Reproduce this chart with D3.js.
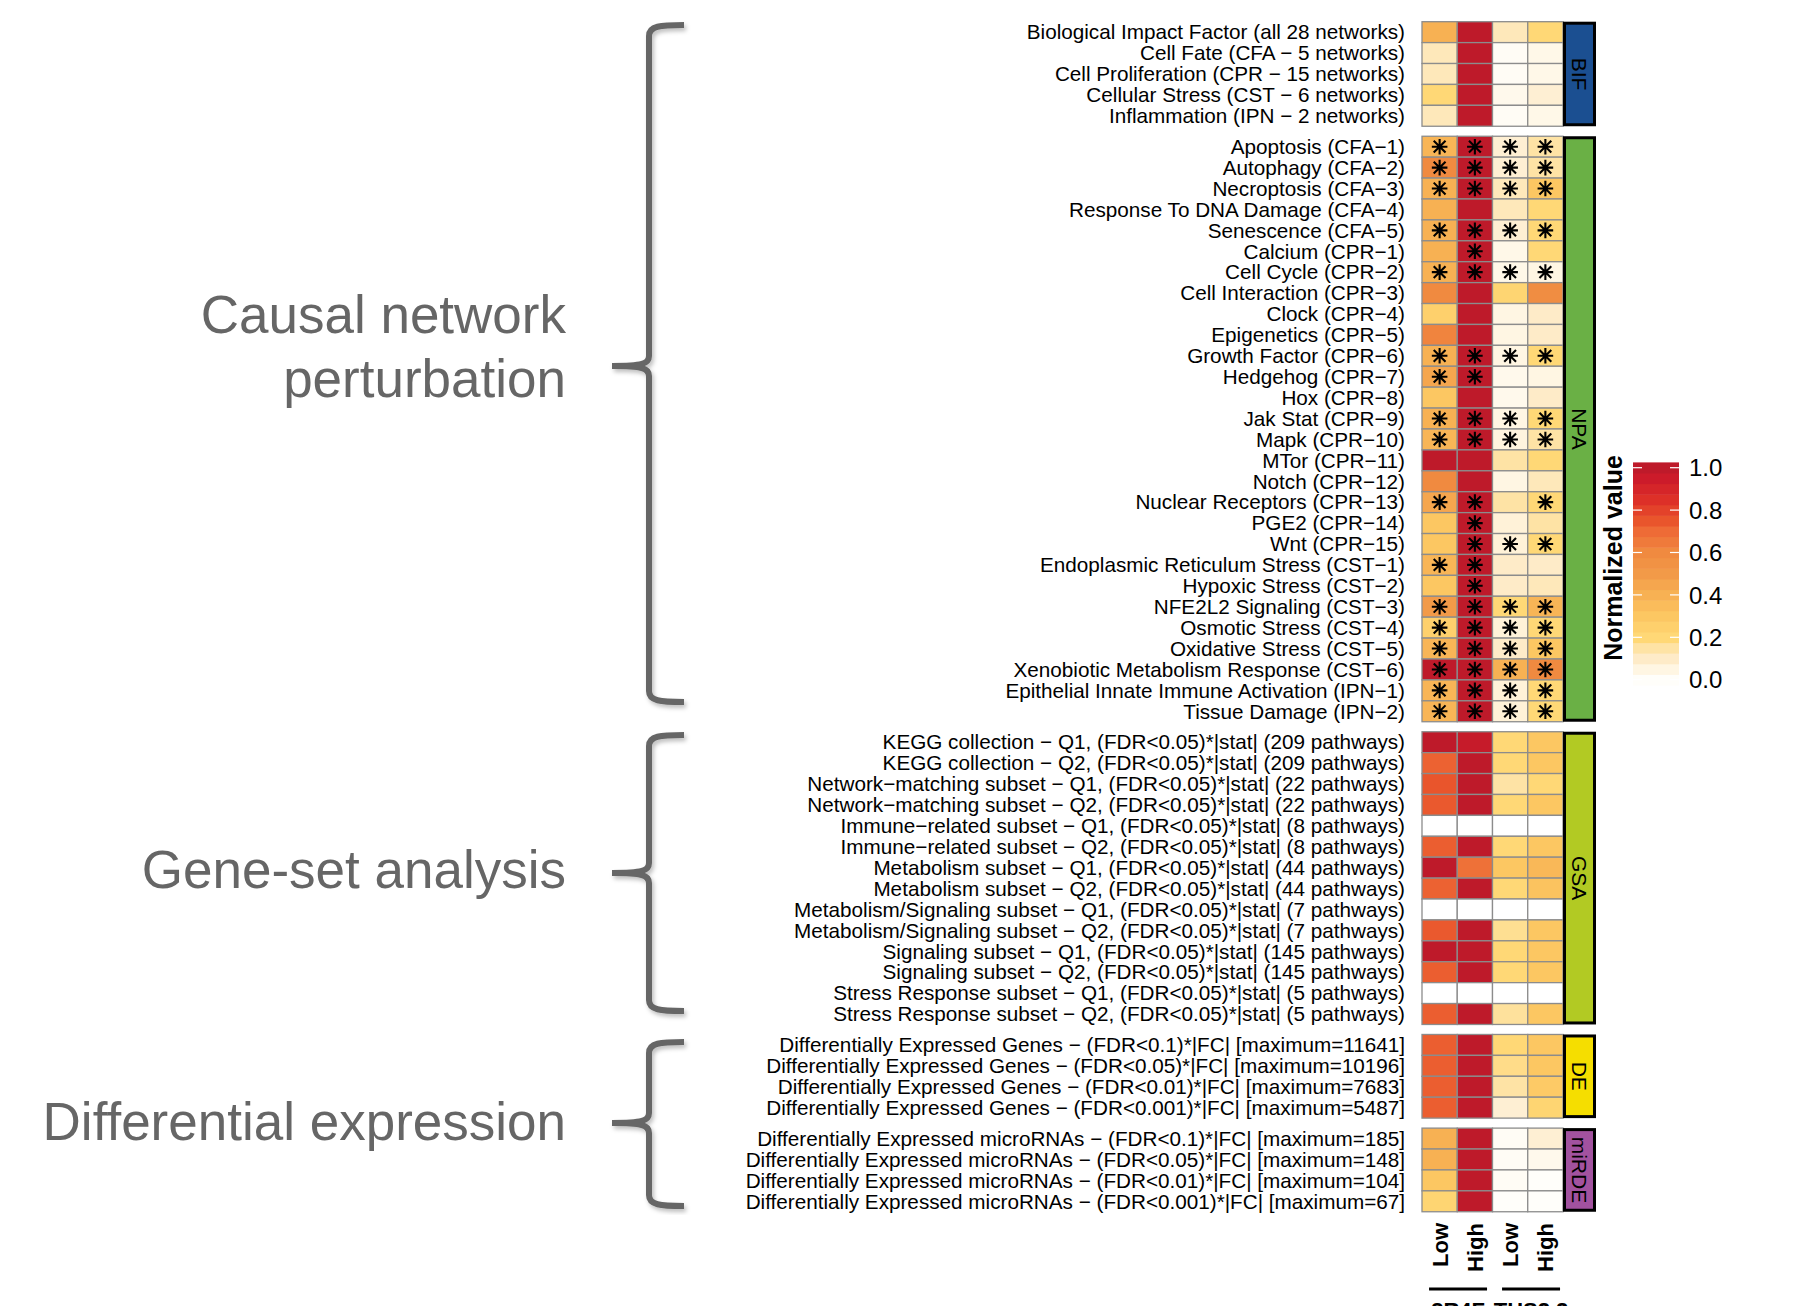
<!DOCTYPE html>
<html>
<head>
<meta charset="utf-8">
<script src="https://cdn.jsdelivr.net/npm/d3@7"></script>
<style>
  html, body { margin: 0; padding: 0; background: #fff; }
  svg { display: block; font-family: "Liberation Sans", Arial, Helvetica, sans-serif; }
</style>
</head>
<body>
<svg id="chart" width="1809" height="1306"></svg>
<script>
// ---- data -------------------------------------------------------------
const colKeys   = ['3R4F_Low', '3R4F_High', 'THS_Low', 'THS_High'];
const colLabels = ['Low', 'High', 'Low', 'High'];
const products  = ['3R4F', 'THS2.2'];

const groupNames  = ['BIF', 'NPA', 'GSA', 'DE', 'miRDE'];
const groupColors = ['#1b4f91', '#6ab045', '#b2ca23', '#f5de00', '#a2529f'];

const bifLabels = [
  'Biological Impact Factor (all 28 networks)',
  'Cell Fate (CFA − 5 networks)',
  'Cell Proliferation (CPR − 15 networks)',
  'Cellular Stress (CST − 6 networks)',
  'Inflammation (IPN − 2 networks)'
];
const bifValues = [
  [0.40, 1, 0.12, 0.20],
  [0.12, 1, 0.01, 0.04],
  [0.12, 1, 0.01, 0.04],
  [0.20, 1, 0.03, 0.08],
  [0.12, 1, 0.01, 0.04]
];

const npaLabels = [
  'Apoptosis (CFA−1)', 'Autophagy (CFA−2)', 'Necroptosis (CFA−3)',
  'Response To DNA Damage (CFA−4)', 'Senescence (CFA−5)',
  'Calcium (CPR−1)', 'Cell Cycle (CPR−2)', 'Cell Interaction (CPR−3)',
  'Clock (CPR−4)', 'Epigenetics (CPR−5)', 'Growth Factor (CPR−6)',
  'Hedgehog (CPR−7)', 'Hox (CPR−8)', 'Jak Stat (CPR−9)', 'Mapk (CPR−10)',
  'MTor (CPR−11)', 'Notch (CPR−12)', 'Nuclear Receptors (CPR−13)',
  'PGE2 (CPR−14)', 'Wnt (CPR−15)',
  'Endoplasmic Reticulum Stress (CST−1)', 'Hypoxic Stress (CST−2)',
  'NFE2L2 Signaling (CST−3)', 'Osmotic Stress (CST−4)',
  'Oxidative Stress (CST−5)', 'Xenobiotic Metabolism Response (CST−6)',
  'Epithelial Innate Immune Activation (IPN−1)', 'Tissue Damage (IPN−2)'
];
const npaValues = [
  [0.38, 1, 0.08, 0.15], [0.60, 1, 0.08, 0.15], [0.40, 1, 0.12, 0.30],
  [0.40, 1, 0.12, 0.20], [0.40, 1, 0.08, 0.20],
  [0.40, 1, 0.04, 0.20], [0.40, 1, 0.04, 0.05], [0.60, 1, 0.22, 0.58],
  [0.25, 1, 0.05, 0.10], [0.62, 1, 0.05, 0.10], [0.40, 1, 0.05, 0.20],
  [0.45, 1, 0.03, 0.05], [0.30, 1, 0.03, 0.10], [0.40, 1, 0.05, 0.20],
  [0.38, 1, 0.06, 0.15], [1.00, 1, 0.15, 0.20], [0.60, 1, 0.05, 0.12],
  [0.45, 1, 0.15, 0.20], [0.30, 1, 0.07, 0.15], [0.30, 1, 0.07, 0.20],
  [0.38, 1, 0.10, 0.10], [0.30, 1, 0.10, 0.12], [0.50, 1, 0.20, 0.38],
  [0.25, 1, 0.07, 0.20], [0.38, 1, 0.10, 0.30], [1.00, 1, 0.40, 0.60],
  [0.38, 1, 0.07, 0.20], [0.38, 1, 0.07, 0.20]
];
const npaStars = [
  [1,1,1,1], [1,1,1,1], [1,1,1,1], [0,0,0,0], [1,1,1,1],
  [0,1,0,0], [1,1,1,1], [0,0,0,0], [0,0,0,0], [0,0,0,0],
  [1,1,1,1], [1,1,0,0], [0,0,0,0], [1,1,1,1], [1,1,1,1],
  [0,0,0,0], [0,0,0,0], [1,1,0,1], [0,1,0,0], [0,1,1,1],
  [1,1,0,0], [0,1,0,0], [1,1,1,1], [1,1,1,1], [1,1,1,1],
  [1,1,1,1], [1,1,1,1], [1,1,1,1]
];

const gsaLabels = [
  'KEGG collection − Q1, (FDR<0.05)*|stat| (209 pathways)',
  'KEGG collection − Q2, (FDR<0.05)*|stat| (209 pathways)',
  'Network−matching subset − Q1, (FDR<0.05)*|stat| (22 pathways)',
  'Network−matching subset − Q2, (FDR<0.05)*|stat| (22 pathways)',
  'Immune−related subset − Q1, (FDR<0.05)*|stat| (8 pathways)',
  'Immune−related subset − Q2, (FDR<0.05)*|stat| (8 pathways)',
  'Metabolism subset − Q1, (FDR<0.05)*|stat| (44 pathways)',
  'Metabolism subset − Q2, (FDR<0.05)*|stat| (44 pathways)',
  'Metabolism/Signaling subset − Q1, (FDR<0.05)*|stat| (7 pathways)',
  'Metabolism/Signaling subset − Q2, (FDR<0.05)*|stat| (7 pathways)',
  'Signaling subset − Q1, (FDR<0.05)*|stat| (145 pathways)',
  'Signaling subset − Q2, (FDR<0.05)*|stat| (145 pathways)',
  'Stress Response subset − Q1, (FDR<0.05)*|stat| (5 pathways)',
  'Stress Response subset − Q2, (FDR<0.05)*|stat| (5 pathways)'
];
const gsaValues = [
  [1.00, 0.97, 0.20, 0.30], [0.72, 1, 0.20, 0.30],
  [0.75, 1, 0.15, 0.20],    [0.74, 1, 0.20, 0.30],
  [null, null, null, null], [0.73, 1, 0.20, 0.30],
  [1.00, 0.68, 0.30, 0.37], [0.72, 1, 0.20, 0.32],
  [null, null, null, null], [0.74, 1, 0.17, 0.30],
  [1.00, 1, 0.20, 0.30],    [0.73, 1, 0.20, 0.30],
  [null, null, null, null], [0.73, 1, 0.16, 0.30]
];

const deLabels = [
  'Differentially Expressed Genes − (FDR<0.1)*|FC| [maximum=11641]',
  'Differentially Expressed Genes − (FDR<0.05)*|FC| [maximum=10196]',
  'Differentially Expressed Genes − (FDR<0.01)*|FC| [maximum=7683]',
  'Differentially Expressed Genes − (FDR<0.001)*|FC| [maximum=5487]'
];
const deValues = [
  [0.73, 1, 0.20, 0.30], [0.73, 1, 0.18, 0.30],
  [0.73, 1, 0.15, 0.28], [0.73, 1, 0.08, 0.22]
];

const mirdeLabels = [
  'Differentially Expressed microRNAs − (FDR<0.1)*|FC| [maximum=185]',
  'Differentially Expressed microRNAs − (FDR<0.05)*|FC| [maximum=148]',
  'Differentially Expressed microRNAs − (FDR<0.01)*|FC| [maximum=104]',
  'Differentially Expressed microRNAs − (FDR<0.001)*|FC| [maximum=67]'
];
const mirdeValues = [
  [0.40, 1, 0.01, 0.08], [0.40, 1, 0.01, 0.03],
  [0.30, 1, 0.01, 0.00], [0.22, 1, 0.00, 0.00]
];

const sectionLabels = [['Causal network', 'perturbation'], ['Gene-set analysis'], ['Differential expression']];
const legendTicks = [0, 0.2, 0.4, 0.6, 0.8, 1.0];

// colour ramp (white -> yellow -> orange -> red)
const colorStops = [0, 0.05, 0.1, 0.15, 0.2, 0.3, 0.4, 0.5, 0.6, 0.7, 0.75, 0.85, 0.95, 1];
const colorHex   = ['#fffefa', '#fff6e3', '#feebc8', '#fee3a5', '#ffd876', '#fcc762', '#f7b153',
                    '#f29a48', '#f08a40', '#ee6b36', '#e9552c', '#dd3028', '#cc1b2a', '#be1a2a'];

// ---- layout -----------------------------------------------------------
const groups = [
  { labels: bifLabels,   values: bifValues },
  { labels: npaLabels,   values: npaValues, stars: npaStars },
  { labels: gsaLabels,   values: gsaValues },
  { labels: deLabels,    values: deValues },
  { labels: mirdeLabels, values: mirdeValues }
].map((g, i) => ({ ...g, name: groupNames[i], color: groupColors[i] }));

const ROW_H = 20.91, GAP = 10, TOP = 21.7;
const HM_X0 = 1422, HM_X1 = 1563;
const LABEL_X = 1405;
const GREY = '#666666';

const svg = d3.select('#chart');
const color = d3.scaleLinear().domain(colorStops).range(colorHex).clamp(true);
const x = d3.scaleBand().domain(colKeys).range([HM_X0, HM_X1]);

let cursorY = TOP;
groups.forEach(g => {
  g.y = d3.scaleBand().domain(g.labels).range([cursorY, cursorY + g.labels.length * ROW_H]);
  cursorY += g.labels.length * ROW_H + GAP;
});

const defs = svg.append('defs');
const shadow = defs.append('filter').attr('id', 'shadow')
  .attr('x', '-50%').attr('y', '-5%').attr('width', '200%').attr('height', '110%');
shadow.append('feDropShadow')
  .attr('dx', 2).attr('dy', 3).attr('stdDeviation', 2)
  .attr('flood-color', '#000').attr('flood-opacity', 0.25);

// ---- heatmap ----------------------------------------------------------
const hm = svg.append('g').attr('class', 'heatmap');
const starPath = (r, d) => `M0,${-r}L0,${r}M${-r},0L${r},0M${-d},${-d}L${d},${d}M${-d},${d}L${d},${-d}`;

groups.forEach(g => {
  const gg = hm.append('g').attr('class', 'group-' + g.name);
  const cells = g.labels.flatMap((lab, i) => colKeys.map((k, j) => ({
    lab, key: k, v: g.values[i][j], star: g.stars ? g.stars[i][j] : 0
  })));

  gg.selectAll('rect.cell')
    .data(cells)
    .join('rect')
    .attr('class', 'cell')
    .attr('x', d => x(d.key))
    .attr('y', d => g.y(d.lab))
    .attr('width', x.bandwidth())
    .attr('height', g.y.bandwidth())
    .attr('fill', d => d.v == null ? '#ffffff' : color(d.v))
    .attr('stroke', '#8c8c8c')
    .attr('stroke-width', 1.3);

  gg.selectAll('path.star')
    .data(cells.filter(d => d.star))
    .join('path')
    .attr('class', 'star')
    .attr('transform', d => `translate(${x(d.key) + x.bandwidth() / 2},${g.y(d.lab) + g.y.bandwidth() / 2})`)
    .attr('d', starPath(7.8, 5.9))
    .attr('stroke', '#000')
    .attr('stroke-width', 2.1)
    .attr('fill', 'none');

  // row labels
  gg.selectAll('text.row')
    .data(g.labels)
    .join('text')
    .attr('class', 'row')
    .attr('x', LABEL_X)
    .attr('y', d => g.y(d) + g.y.bandwidth() / 2)
    .attr('dy', '0.35em')
    .attr('text-anchor', 'end')
    .attr('font-size', 20.7)
    .attr('fill', '#000')
    .text(d => d);

  // annotation bar
  const [y0, y1] = g.y.range();
  gg.append('rect')
    .attr('x', HM_X1 + 1.5).attr('y', y0 + 1.5)
    .attr('width', 30).attr('height', y1 - y0 - 3)
    .attr('fill', g.color)
    .attr('stroke', '#000')
    .attr('stroke-width', 3);
  gg.append('text')
    .attr('transform', `translate(${HM_X1 + 16.5},${(y0 + y1) / 2}) rotate(90)`)
    .attr('text-anchor', 'middle')
    .attr('dy', '0.35em')
    .attr('font-size', 21)
    .attr('fill', '#000')
    .text(g.name);
});

// ---- column labels ----------------------------------------------------
const colG = svg.append('g').attr('class', 'col-labels');
colG.selectAll('text')
  .data(colKeys)
  .join('text')
  .attr('transform', d => `translate(${x(d) + x.bandwidth() / 2 + 8},1223) rotate(-90)`)
  .attr('text-anchor', 'end')
  .attr('font-size', 22)
  .attr('font-weight', 'bold')
  .text((d, i) => colLabels[i]);

products.forEach((p, i) => {
  const a = x(colKeys[i * 2]), b = x(colKeys[i * 2 + 1]) + x.bandwidth();
  const cx = (a + b) / 2 + (i === 0 ? 0.8 : 3.3);
  colG.append('line')
    .attr('x1', cx - 29).attr('x2', cx + 29)
    .attr('y1', 1289).attr('y2', 1289)
    .attr('stroke', '#000').attr('stroke-width', 3);
  colG.append('text')
    .attr('x', cx).attr('y', 1318)
    .attr('text-anchor', 'middle')
    .attr('font-size', 22)
    .attr('font-weight', 'bold')
    .text(p);
});

// ---- legend -----------------------------------------------------------
const LEG_X = 1633, LEG_W = 46;
const yLeg = d3.scaleLinear().domain([0, 1]).range([679.7, 467.7]);
const bins = d3.range(0, 21).map(i => i / 20);
const binH = yLeg(0) - yLeg(0.05);
const leg = svg.append('g').attr('class', 'legend');
leg.selectAll('rect')
  .data(bins)
  .join('rect')
  .attr('x', LEG_X)
  .attr('y', d => yLeg(d) - binH / 2)
  .attr('width', LEG_W)
  .attr('height', binH + 0.5)
  .attr('fill', d => color(d));
leg.selectAll('line.tick')
  .data(legendTicks.flatMap(t => [[t, 0], [t, 1]]))
  .join('line')
  .attr('class', 'tick')
  .attr('x1', d => d[1] ? LEG_X + LEG_W - 9 : LEG_X)
  .attr('x2', d => d[1] ? LEG_X + LEG_W : LEG_X + 9)
  .attr('y1', d => yLeg(d[0])).attr('y2', d => yLeg(d[0]))
  .attr('stroke', '#fff').attr('stroke-width', 1.2);
leg.selectAll('text.lab')
  .data(legendTicks)
  .join('text')
  .attr('class', 'lab')
  .attr('x', 1689)
  .attr('y', d => yLeg(d))
  .attr('dy', '0.36em')
  .attr('font-size', 24)
  .text(d => d3.format('.1f')(d));
leg.append('text')
  .attr('transform', 'translate(1622,558) rotate(-90)')
  .attr('text-anchor', 'middle')
  .attr('font-size', 25)
  .attr('font-weight', 'bold')
  .text('Normalized value');

// ---- brackets and section titles --------------------------------------
const braces = [
  { top: 25, bottom: 702, mid: 366 },
  { top: 735, bottom: 1011, mid: 873 },
  { top: 1042, bottom: 1206, mid: 1123 }
];
const VX = 649, TIP = 684, CUSP = 612;
const braceG = svg.append('g').attr('class', 'braces');
braceG.selectAll('path')
  .data(braces)
  .join('path')
  .attr('d', b => {
    const p = d3.path();
    p.moveTo(TIP, b.top);
    p.bezierCurveTo(660, b.top, VX, b.top + 1, VX, b.top + 11);
    p.lineTo(VX, b.mid - 10);
    p.bezierCurveTo(VX, b.mid - 2, 642, b.mid, CUSP, b.mid);
    p.moveTo(CUSP, b.mid);
    p.bezierCurveTo(642, b.mid, VX, b.mid + 2, VX, b.mid + 10);
    p.lineTo(VX, b.bottom - 11);
    p.bezierCurveTo(VX, b.bottom - 1, 660, b.bottom, TIP, b.bottom);
    return p.toString();
  })
  .attr('fill', 'none')
  .attr('stroke', GREY)
  .attr('stroke-width', 6)
  .attr('filter', 'url(#shadow)');

const titleBaselines = [[333, 397], [888], [1140]];
const titleG = svg.append('g').attr('class', 'section-titles');
sectionLabels.forEach((lines, i) => {
  lines.forEach((ln, j) => {
    titleG.append('text')
      .attr('x', 566)
      .attr('y', titleBaselines[i][j])
      .attr('text-anchor', 'end')
      .attr('font-size', 53)
      .attr('fill', GREY)
      .text(ln);
  });
});
</script>
</body>
</html>
